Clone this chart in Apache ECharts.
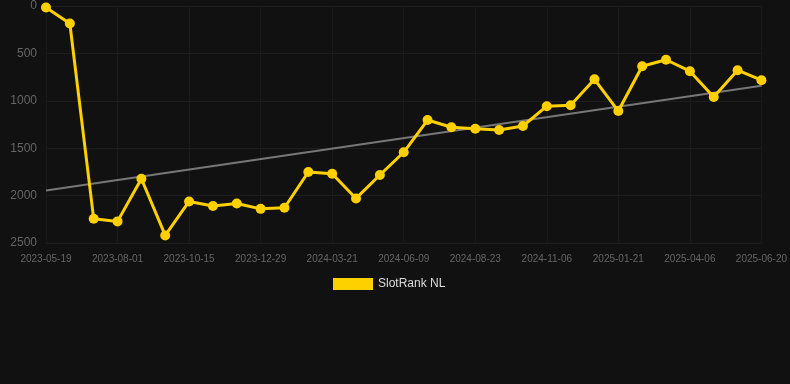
<!DOCTYPE html>
<html>
<head>
<meta charset="utf-8">
<script src="https://cdn.jsdelivr.net/npm/echarts@6/dist/echarts.min.js"></script>
<style>
html,body{margin:0;padding:0;background:#111111;}
#c{width:790px;height:384px;}
</style>
</head>
<body>
<div id="c"></div>
<script>
const dates = ["2023-05-19","2023-06-13","2023-07-07","2023-08-01","2023-08-26","2023-09-20","2023-10-15","2023-11-09","2023-12-04","2023-12-29","2024-01-25","2024-02-22","2024-03-21","2024-04-17","2024-05-13","2024-06-09","2024-07-04","2024-07-29","2024-08-23","2024-09-17","2024-10-12","2024-11-06","2024-12-01","2024-12-26","2025-01-21","2025-02-15","2025-03-12","2025-04-06","2025-05-01","2025-05-26","2025-06-20"];
const rankValues = [15,185,2245,2272,1822,2420,2062,2110,2083,2140,2128,1751,1770,2030,1783,1543,1203,1279,1295,1308,1266,1057,1047,773,1108,635,567,688,960,677,783];
const trendStart = 1947;
const trendEnd = 842;
const yTicks = [0,500,1000,1500,2000,2500];
const seriesName = "SlotRank NL";

const chart = echarts.init(document.getElementById('c'));
chart.setOption({
  backgroundColor: '#111111',
  animation: false,
  grid: {left: 46, right: 28, top: 6, bottom: 141, containLabel: false},
  legend: {
    data: [seriesName],
    top: 273,
    left: 328,
    itemWidth: 40,
    itemHeight: 12,
    icon: 'rect',
    textStyle: {color: '#dddddd', fontSize: 12, fontFamily: 'Liberation Sans, Arial, sans-serif'}
  },
  xAxis: {
    type: 'category',
    data: dates,
    boundaryGap: false,
    axisLine: {show: false},
    axisTick: {show: false},
    axisLabel: {interval: 2, color: '#666666', fontSize: 10, margin: 11, fontFamily: 'Liberation Sans, Arial, sans-serif'},
    splitLine: {show: true, interval: 2, lineStyle: {color: '#1a1a1a', width: 1}}
  },
  yAxis: {
    type: 'value',
    inverse: true,
    min: yTicks[0],
    max: yTicks[yTicks.length-1],
    interval: yTicks[1]-yTicks[0],
    axisLine: {show: false},
    axisTick: {show: false},
    axisLabel: {color: '#666666', fontSize: 12, margin: 9, formatter: v => String(v), fontFamily: 'Liberation Sans, Arial, sans-serif'},
    splitLine: {lineStyle: {color: '#1e1e1e', width: 1}}
  },
  series: [
    {
      name: seriesName,
      type: 'line',
      data: rankValues,
      symbol: 'circle',
      symbolSize: 10,
      itemStyle: {color: '#FFD000'},
      lineStyle: {color: '#FFD000', width: 3},
      z: 3
    },
    {
      name: 'trend',
      type: 'line',
      data: [[0, trendStart], [dates.length-1, trendEnd]],
      symbol: 'none',
      lineStyle: {color: '#777777', width: 2},
      z: 2,
      silent: true
    }
  ]
});
</script>
</body>
</html>
